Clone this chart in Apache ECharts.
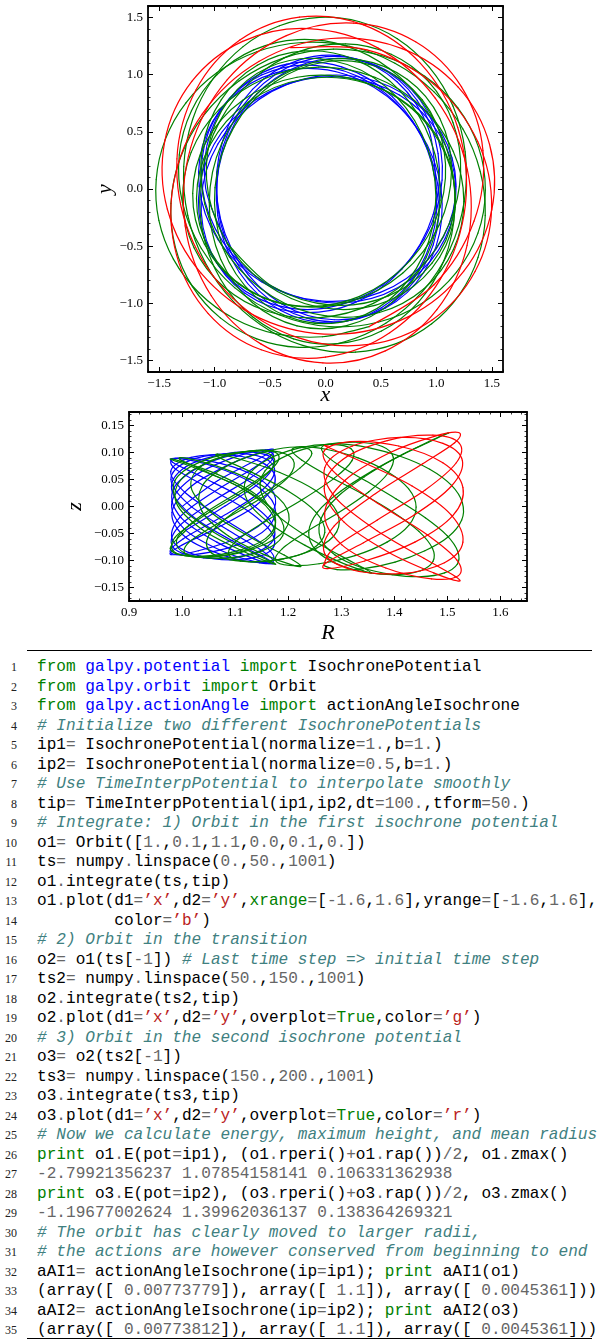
<!DOCTYPE html>
<html><head><meta charset="utf-8">
<script src="https://cdn.jsdelivr.net/npm/echarts@6/dist/echarts.min.js"></script>
<style>
html,body{margin:0;padding:0;background:#fff;width:600px;height:1344px;overflow:hidden;}
#chart{position:absolute;left:0;top:0;width:600px;height:645px;}
.rule{position:absolute;left:27px;width:565px;height:0;border-top:1.5px solid #000;}
.ln{position:absolute;left:0;width:17px;text-align:right;font-family:'Liberation Serif',serif;font-size:12px;color:#222;line-height:19.5px;height:19.5px;}
.cl{position:absolute;left:37px;font-family:'Liberation Mono',monospace;font-size:16.1px;white-space:pre;color:#000;line-height:19.5px;height:19.5px;}
</style></head><body>
<div id="chart"></div>
<div id="code"></div>
<script>
// ===== Orbit samples read for the figure (x, y, z in natural units) =====
// Orbit 1 (blue): t = 0 .. 50
const blueX=[1.000,0.928,0.645,0.224,-0.242,-0.658,-0.926,-0.973,-0.777,-0.394,0.079,0.537,0.885,1.047,0.974,0.665,0.191,-0.330,-0.779,-1.068,-1.139,-0.968,-0.578,-0.048,0.495,0.923,1.150,1.141,0.898,0.464,-0.076,-0.596,-0.970,-1.120,-1.028,-0.726,-0.275,0.235,0.687,0.970,1.015,0.827,0.463,0.004,-0.455,-0.813,-0.976,-0.898,-0.601,-0.167,0.303,0.711,0.971,1.013,0.812,0.409,-0.093,-0.576,-0.940,-1.112,-1.050,-0.751,-0.270,0.278,0.762,1.079,1.174,1.029,0.666,0.151,-0.400,-0.853,-1.107,-1.121,-0.905,-0.504,0.004,0.510,0.890,1.051,0.969,0.680,0.251,-0.228,-0.657,-0.929,-0.971,-0.776,-0.403,0.056,0.504,0.846,1.001,0.916,0.604,0.145,-0.348,-0.769,-1.034,-1.081,-0.886];
const blueY=[0.000,0.528,0.938,1.150,1.127,0.871,0.423,-0.125,-0.642,-1.005,-1.143,-1.043,-0.730,-0.265,0.259,0.718,0.999,1.042,0.855,0.490,0.025,-0.444,-0.810,-0.978,-0.904,-0.616,-0.192,0.271,0.679,0.940,0.984,0.785,0.393,-0.093,-0.559,-0.912,-1.076,-1.007,-0.703,-0.224,0.310,0.774,1.075,1.157,0.999,0.623,0.099,-0.448,-0.888,-1.129,-1.132,-0.905,-0.489,0.034,0.547,0.925,1.081,0.997,0.704,0.268,-0.223,-0.663,-0.940,-0.984,-0.795,-0.430,0.024,0.474,0.821,0.979,0.897,0.593,0.149,-0.329,-0.739,-0.998,-1.041,-0.842,-0.436,0.078,0.576,0.952,1.133,1.081,0.793,0.319,-0.233,-0.730,-1.062,-1.170,-1.039,-0.693,-0.195,0.349,0.805,1.068,1.092,0.886,0.501,0.011,-0.479];
const blueZ=[0.000,0.048,0.085,0.105,0.102,0.079,0.038,-0.011,-0.058,-0.091,-0.104,-0.095,-0.066,-0.024,0.024,0.065,0.091,0.095,0.078,0.045,0.002,-0.040,-0.074,-0.089,-0.082,-0.056,-0.017,0.025,0.062,0.085,0.089,0.071,0.036,-0.008,-0.051,-0.083,-0.098,-0.092,-0.064,-0.020,0.028,0.070,0.098,0.105,0.091,0.057,0.009,-0.041,-0.081,-0.103,-0.103,-0.082,-0.044,0.003,0.050,0.084,0.098,0.091,0.064,0.024,-0.020,-0.060,-0.085,-0.089,-0.072,-0.039,0.002,0.043,0.075,0.089,0.082,0.054,0.014,-0.030,-0.067,-0.091,-0.095,-0.077,-0.040,0.007,0.052,0.087,0.103,0.098,0.072,0.029,-0.021,-0.066,-0.097,-0.106,-0.094,-0.063,-0.018,0.032,0.073,0.097,0.099,0.081,0.046,0.001,-0.044];
// Orbit 2 (green): t = 50 .. 150
const greenX=[-0.886,-0.478,0.050,0.567,0.960,1.154,1.113,0.837,0.372,-0.184,-0.694,-1.042,-1.163,-1.045,-0.714,-0.232,0.302,0.762,1.034,1.067,0.871,0.497,0.023,-0.456,-0.827,-0.996,-0.923,-0.639,-0.220,0.243,0.657,0.929,0.986,0.803,0.429,-0.043,-0.507,-0.871,-1.060,-1.025,-0.757,-0.308,0.213,0.690,1.029,1.169,1.081,0.770,0.290,-0.257,-0.746,-1.078,-1.197,-1.092,-0.781,-0.317,0.213,0.695,1.022,1.136,1.030,0.736,0.310,-0.173,-0.620,-0.935,-1.048,-0.945,-0.660,-0.257,0.190,0.604,0.907,1.033,0.948,0.670,0.263,-0.191,-0.615,-0.939,-1.110,-1.088,-0.866,-0.476,0.005,0.486,0.888,1.153,1.247,1.151,0.872,0.445,-0.061,-0.556,-0.958,-1.211,-1.287,-1.185,-0.920,-0.524,-0.050,0.431,0.841,1.115,1.218,1.149,0.929,0.592,0.181,-0.253,-0.652,-0.956,-1.116,-1.110,-0.946,-0.657,-0.288,0.114,0.504,0.836,1.069,1.166,1.111,0.904,0.575,0.173,-0.250,-0.647,-0.977,-1.208,-1.318,-1.290,-1.119,-0.819,-0.419,0.032,0.480,0.875,1.181,1.374,1.441,1.379,1.193,0.895,0.509,0.071,-0.375,-0.780,-1.100,-1.309,-1.393,-1.353,-1.199,-0.948,-0.620,-0.241,0.158,0.543,0.875,1.120,1.251,1.259,1.149,0.937,0.647,0.307,-0.056,-0.415,-0.743,-1.012,-1.198,-1.278,-1.241,-1.086,-0.828,-0.494,-0.117,0.270,0.637,0.957,1.209,1.375,1.440,1.395,1.239,0.976,0.626,0.218,-0.210,-0.620,-0.977,-1.258,-1.444,-1.526,-1.502,-1.371,-1.141,-0.826,-0.445,-0.026,0.395];
const greenY=[-0.479,-0.853,-1.015,-0.934,-0.647,-0.224,0.244,0.660,0.924,0.962,0.762,0.382,-0.083,-0.532,-0.871,-1.024,-0.941,-0.627,-0.159,0.348,0.781,1.056,1.115,0.935,0.539,0.012,-0.519,-0.934,-1.153,-1.140,-0.896,-0.461,0.079,0.599,0.978,1.139,1.066,0.782,0.342,-0.169,-0.640,-0.958,-1.053,-0.918,-0.597,-0.161,0.306,0.709,0.953,0.977,0.776,0.410,-0.039,-0.481,-0.832,-1.018,-0.987,-0.736,-0.321,0.164,0.618,0.959,1.129,1.089,0.832,0.400,-0.119,-0.614,-0.993,-1.196,-1.195,-0.987,-0.601,-0.098,0.424,0.860,1.133,1.207,1.082,0.782,0.355,-0.132,-0.594,-0.942,-1.110,-1.080,-0.872,-0.530,-0.108,0.330,0.715,0.977,1.065,0.962,0.696,0.320,-0.104,-0.513,-0.852,-1.069,-1.124,-1.000,-0.710,-0.305,0.148,0.581,0.938,1.178,1.269,1.197,0.961,0.587,0.124,-0.357,-0.789,-1.117,-1.310,-1.352,-1.242,-0.991,-0.623,-0.177,0.292,0.721,1.054,1.254,1.306,1.216,1.000,0.684,0.299,-0.117,-0.520,-0.862,-1.099,-1.202,-1.163,-0.996,-0.726,-0.386,-0.010,0.366,0.709,0.986,1.165,1.223,1.147,0.945,0.641,0.271,-0.125,-0.511,-0.854,-1.127,-1.310,-1.384,-1.340,-1.174,-0.896,-0.529,-0.108,0.324,0.725,1.063,1.314,1.462,1.501,1.427,1.245,0.966,0.608,0.196,-0.233,-0.640,-0.987,-1.243,-1.391,-1.426,-1.352,-1.179,-0.921,-0.598,-0.231,0.153,0.524,0.851,1.100,1.248,1.281,1.200,1.018,0.754,0.434,0.082,-0.275,-0.613,-0.907,-1.132,-1.266,-1.292,-1.203];
const greenZ=[-0.044,-0.078,-0.092,-0.085,-0.059,-0.020,0.022,0.060,0.084,0.087,0.069,0.035,-0.008,-0.048,-0.079,-0.093,-0.086,-0.057,-0.014,0.032,0.071,0.096,0.101,0.085,0.049,0.001,-0.047,-0.085,-0.105,-0.104,-0.081,-0.042,0.007,0.054,0.089,0.104,0.097,0.071,0.031,-0.015,-0.058,-0.087,-0.096,-0.083,-0.054,-0.015,0.028,0.064,0.087,0.089,0.071,0.037,-0.004,-0.044,-0.076,-0.093,-0.090,-0.067,-0.029,0.015,0.056,0.087,0.103,0.099,0.076,0.036,-0.011,-0.056,-0.090,-0.109,-0.109,-0.090,-0.055,-0.009,0.039,0.078,0.103,0.110,0.098,0.071,0.032,-0.012,-0.054,-0.086,-0.101,-0.098,-0.079,-0.048,-0.010,0.030,0.065,0.089,0.097,0.087,0.063,0.029,-0.009,-0.047,-0.077,-0.097,-0.102,-0.091,-0.065,-0.028,0.013,0.053,0.085,0.107,0.115,0.109,0.087,0.053,0.011,-0.032,-0.072,-0.102,-0.119,-0.123,-0.113,-0.090,-0.057,-0.016,0.027,0.066,0.096,0.114,0.119,0.111,0.091,0.062,0.027,-0.011,-0.047,-0.078,-0.100,-0.109,-0.106,-0.091,-0.066,-0.035,-0.001,0.033,0.064,0.090,0.106,0.111,0.104,0.086,0.058,0.025,-0.011,-0.046,-0.078,-0.102,-0.119,-0.126,-0.122,-0.107,-0.081,-0.048,-0.010,0.029,0.066,0.097,0.119,0.133,0.136,0.130,0.113,0.088,0.055,0.018,-0.021,-0.058,-0.090,-0.113,-0.126,-0.130,-0.123,-0.107,-0.084,-0.054,-0.021,0.014,0.048,0.077,0.100,0.113,0.116,0.109,0.093,0.069,0.039,0.007,-0.025,-0.056,-0.082,-0.103,-0.115,-0.117,-0.109];
// Orbit 3 (red): t = 150 .. 200
const redX=[0.395,0.978,1.339,1.419,1.226,0.812,0.252,-0.353,-0.885,-1.216,-1.265,-1.030,-0.583,-0.024,0.539,1.004,1.276,1.278,0.989,0.471,-0.152,-0.747,-1.205,-1.448,-1.426,-1.124,-0.582,0.094,0.749,1.245,1.499,1.479,1.196,0.691,0.050,-0.601,-1.112,-1.371,-1.343,-1.057,-0.580,0.000,0.579,1.037,1.261,1.192,0.856,0.343,-0.235,-0.772,-1.168,-1.339,-1.226,-0.834,-0.249,0.393,0.958,1.348,1.497,1.372,0.977,0.373,-0.316];
const redY=[-1.203,-0.837,-0.280,0.338,0.893,1.288,1.451,1.341,0.956,0.359,-0.322,-0.933,-1.354,-1.520,-1.415,-1.054,-0.492,0.172,0.795,1.234,1.403,1.291,0.940,0.420,-0.175,-0.733,-1.133,-1.270,-1.116,-0.721,-0.183,0.389,0.891,1.227,1.316,1.115,0.655,0.045,-0.576,-1.089,-1.406,-1.470,-1.257,-0.786,-0.140,0.538,1.098,1.435,1.503,1.302,0.865,0.264,-0.391,-0.956,-1.300,-1.359,-1.147,-0.722,-0.169,0.415,0.915,1.216,1.236];
const redZ=[-0.109,-0.076,-0.025,0.031,0.081,0.117,0.132,0.122,0.087,0.033,-0.029,-0.085,-0.123,-0.138,-0.129,-0.096,-0.045,0.016,0.072,0.112,0.128,0.117,0.085,0.038,-0.016,-0.067,-0.103,-0.115,-0.101,-0.066,-0.017,0.035,0.081,0.112,0.120,0.101,0.060,0.004,-0.052,-0.099,-0.128,-0.134,-0.114,-0.071,-0.013,0.049,0.100,0.130,0.137,0.118,0.079,0.024,-0.036,-0.087,-0.118,-0.124,-0.104,-0.066,-0.015,0.038,0.083,0.111,0.112];

// ===== Tick values / labels =====
const xyMajorTicks=[-1.5,-1.0,-0.5,0.0,0.5,1.0,1.5];
const xyMinorTicks=[-1.6,-1.5,-1.4,-1.3,-1.2,-1.1,-1.0,-0.9,-0.8,-0.7,-0.6,-0.5,-0.4,-0.3,-0.2,-0.1,0,0.1,0.2,0.3,0.4,0.5,0.6,0.7,0.8,0.9,1.0,1.1,1.2,1.3,1.4,1.5,1.6];
const RMajorTicks=[0.9,1.0,1.1,1.2,1.3,1.4,1.5,1.6];
const RMinorTicks=[0.9,0.92,0.94,0.96,0.98,1.0,1.02,1.04,1.06,1.08,1.1,1.12,1.14,1.16,1.18,1.2,1.22,1.24,1.26,1.28,1.3,1.32,1.34,1.36,1.38,1.4,1.42,1.44,1.46,1.48,1.5,1.52,1.54,1.56,1.58,1.6,1.62,1.64];
const zMajorTicks=[-0.15,-0.10,-0.05,0.00,0.05,0.10,0.15];
const zMinorTicks=[-0.17,-0.16,-0.15,-0.14,-0.13,-0.12,-0.11,-0.10,-0.09,-0.08,-0.07,-0.06,-0.05,-0.04,-0.03,-0.02,-0.01,0,0.01,0.02,0.03,0.04,0.05,0.06,0.07,0.08,0.09,0.10,0.11,0.12,0.13,0.14,0.15,0.16,0.17];

// ===== code listing text =====
const codeLines = [
"from galpy.potential import IsochronePotential",
"from galpy.orbit import Orbit",
"from galpy.actionAngle import actionAngleIsochrone",
"# Initialize two different IsochronePotentials",
"ip1= IsochronePotential(normalize=1.,b=1.)",
"ip2= IsochronePotential(normalize=0.5,b=1.)",
"# Use TimeInterpPotential to interpolate smoothly",
"tip= TimeInterpPotential(ip1,ip2,dt=100.,tform=50.)",
"# Integrate: 1) Orbit in the first isochrone potential",
"o1= Orbit([1.,0.1,1.1,0.0,0.1,0.])",
"ts= numpy.linspace(0.,50.,1001)",
"o1.integrate(ts,tip)",
"o1.plot(d1=’x’,d2=’y’,xrange=[-1.6,1.6],yrange=[-1.6,1.6],",
"        color=’b’)",
"# 2) Orbit in the transition",
"o2= o1(ts[-1]) # Last time step => initial time step",
"ts2= numpy.linspace(50.,150.,1001)",
"o2.integrate(ts2,tip)",
"o2.plot(d1=’x’,d2=’y’,overplot=True,color=’g’)",
"# 3) Orbit in the second isochrone potential",
"o3= o2(ts2[-1])",
"ts3= numpy.linspace(150.,200.,1001)",
"o3.integrate(ts3,tip)",
"o3.plot(d1=’x’,d2=’y’,overplot=True,color=’r’)",
"# Now we calculate energy, maximum height, and mean radius",
"print o1.E(pot=ip1), (o1.rperi()+o1.rap())/2, o1.zmax()",
"-2.79921356237 1.07854158141 0.106331362938",
"print o3.E(pot=ip2), (o3.rperi()+o3.rap())/2, o3.zmax()",
"-1.19677002624 1.39962036137 0.138364269321",
"# The orbit has clearly moved to larger radii,",
"# the actions are however conserved from beginning to end",
"aAI1= actionAngleIsochrone(ip=ip1); print aAI1(o1)",
"(array([ 0.00773779]), array([ 1.1]), array([ 0.0045361]))",
"aAI2= actionAngleIsochrone(ip=ip2); print aAI2(o3)",
"(array([ 0.00773812]), array([ 1.1]), array([ 0.0045361]))"
];

function esc(s){return s.replace(/&/g,'&amp;').replace(/</g,'&lt;').replace(/>/g,'&gt;');}
function span(t,c,it){return '<span style="color:'+c+(it?';font-style:italic':'')+'">'+esc(t)+'</span>';}
const C_KW='#008000',C_NS='#0000ff',C_CM='#408080',C_ST='#ba2121',C_NUM='#666666';
function highlight(line){
  const m=line.match(/^(from)(\s+)(\S+)(\s+)(import)(.*)$/);
  if(m){return span(m[1],C_KW)+m[2]+span(m[3],C_NS)+m[4]+span(m[5],C_KW)+esc(m[6]);}
  const re=/(#.*$)|(’[^’]*’)|([A-Za-z_][A-Za-z0-9_]*)|(\d+\.?\d*|\.\d+)|([-+*\/=<>.%])|(\s+)|(.)/g;
  let out='',t;
  while((t=re.exec(line))!==null){
    if(t[0]==='')break;
    if(t[1])out+=span(t[1],C_CM,true);
    else if(t[2])out+=span(t[2],C_ST);
    else if(t[3]){out+=['print','True','xrange'].includes(t[3])?span(t[3],C_KW):esc(t[3]);}
    else if(t[4]||t[5])out+=span(t[0],C_NUM);
    else out+=esc(t[0]);
  }
  return out;
}
(function(){
  const top0=658,lh=19.5;
  let h='<div class="rule" style="top:650px"></div><div class="rule" style="top:1338px"></div>';
  codeLines.forEach((l,i)=>{
    const y=top0+i*lh;
    h+='<div class="ln" style="top:'+y+'px">'+(i+1)+'</div>';
    h+='<div class="cl" style="top:'+y+'px">'+highlight(l)+'</div>';
  });
  document.getElementById('code').innerHTML=h;
})();

// ===== chart =====
const orbitColors=['#0000ff','#008000','#ff0000'];
const orbits=[[blueX,blueY,blueZ],[greenX,greenY,greenZ],[redX,redY,redZ]];
function fmt(d){return v=>(v<-1e-9?'\u2212':'')+Math.abs(v).toFixed(d);}
const lblFont={color:'#000',fontFamily:'Liberation Serif',fontSize:13};
const nameFont={color:'#000',fontFamily:'Liberation Serif',fontStyle:'italic',fontSize:22};
function mkAxes(grid,dim,min,max,majors,minors,dec,name,nameGap){
  const base={type:'value',gridIndex:grid,min:min,max:max,splitLine:{show:false},silent:true};
  const pA=dim==='x'?'bottom':'left',pB=dim==='x'?'top':'right';
  const line={show:true,onZero:false,lineStyle:{color:'#000',width:1.8}};
  const maj={show:true,inside:true,length:5,customValues:majors,lineStyle:{color:'#000',width:1}};
  const mnr={show:true,inside:true,length:2.5,customValues:minors,lineStyle:{color:'#000',width:0.8}};
  return [
    Object.assign({},base,{position:pA,axisLine:line,axisTick:maj,axisLabel:Object.assign({show:true,customValues:majors,formatter:fmt(dec),margin:5},lblFont),
      name:name,nameLocation:'middle',nameGap:nameGap,nameMoveOverlap:false,nameRotate:dim==='y'?90:0,nameTextStyle:nameFont}),
    Object.assign({},base,{position:pA,axisLine:{show:false,onZero:false},axisTick:mnr,axisLabel:{show:false}}),
    Object.assign({},base,{position:pB,axisLine:line,axisTick:maj,axisLabel:{show:false}}),
    Object.assign({},base,{position:pB,axisLine:{show:false,onZero:false},axisTick:mnr,axisLabel:{show:false}})
  ];
}
const xAxes=mkAxes(0,'x',-1.6,1.6,xyMajorTicks,xyMinorTicks,1,'x',12).concat(mkAxes(1,'x',0.9,1.65,RMajorTicks,RMinorTicks,1,'R',21));
const yAxes=mkAxes(0,'y',-1.6,1.6,xyMajorTicks,xyMinorTicks,1,'y',32).concat(mkAxes(1,'y',-0.175,0.175,zMajorTicks,zMinorTicks,2,'z',43));

// smooth curve through the data points (Catmull-Rom as cubic Bezier), drawn via the axes' scales
function curveRender(color){
  return function(params,api){
    const i=params.dataIndexInside,n=params.dataInsideLength;
    if(i>=n-1)return null;
    const P=j=>{j=Math.max(0,Math.min(n-1,j));return api.coord([api.value(0,j),api.value(1,j)]);};
    const p0=P(i-1),p1=P(i),p2=P(i+1),p3=P(i+2);
    return {type:'bezierCurve',shape:{x1:p1[0],y1:p1[1],x2:p2[0],y2:p2[1],
      cpx1:p1[0]+(p2[0]-p0[0])/6,cpy1:p1[1]+(p2[1]-p0[1])/6,
      cpx2:p2[0]-(p3[0]-p1[0])/6,cpy2:p2[1]-(p3[1]-p1[1])/6},
      style:{stroke:color,lineWidth:1.2,fill:'none',lineCap:'round'}};
  };
}
const series=[];
orbits.forEach((o,k)=>{
  series.push({type:'custom',coordinateSystem:'cartesian2d',xAxisIndex:0,yAxisIndex:0,clip:true,animation:false,silent:true,
    encode:{x:0,y:1},data:o[0].map((x,i)=>[x,o[1][i]]),renderItem:curveRender(orbitColors[k])});
});
orbits.forEach((o,k)=>{
  series.push({type:'custom',coordinateSystem:'cartesian2d',xAxisIndex:4,yAxisIndex:4,clip:true,animation:false,silent:true,
    encode:{x:0,y:1},data:o[0].map((x,i)=>[Math.hypot(x,o[1][i]),o[2][i]]),renderItem:curveRender(orbitColors[k])});
});
const chart=echarts.init(document.getElementById('chart'));
chart.setOption({
  animation:false,
  grid:[{left:148,top:6,width:355,height:366},{left:129,top:412,width:398,height:191}],
  xAxis:xAxes,yAxis:yAxes,series:series
});
</script></body></html>
